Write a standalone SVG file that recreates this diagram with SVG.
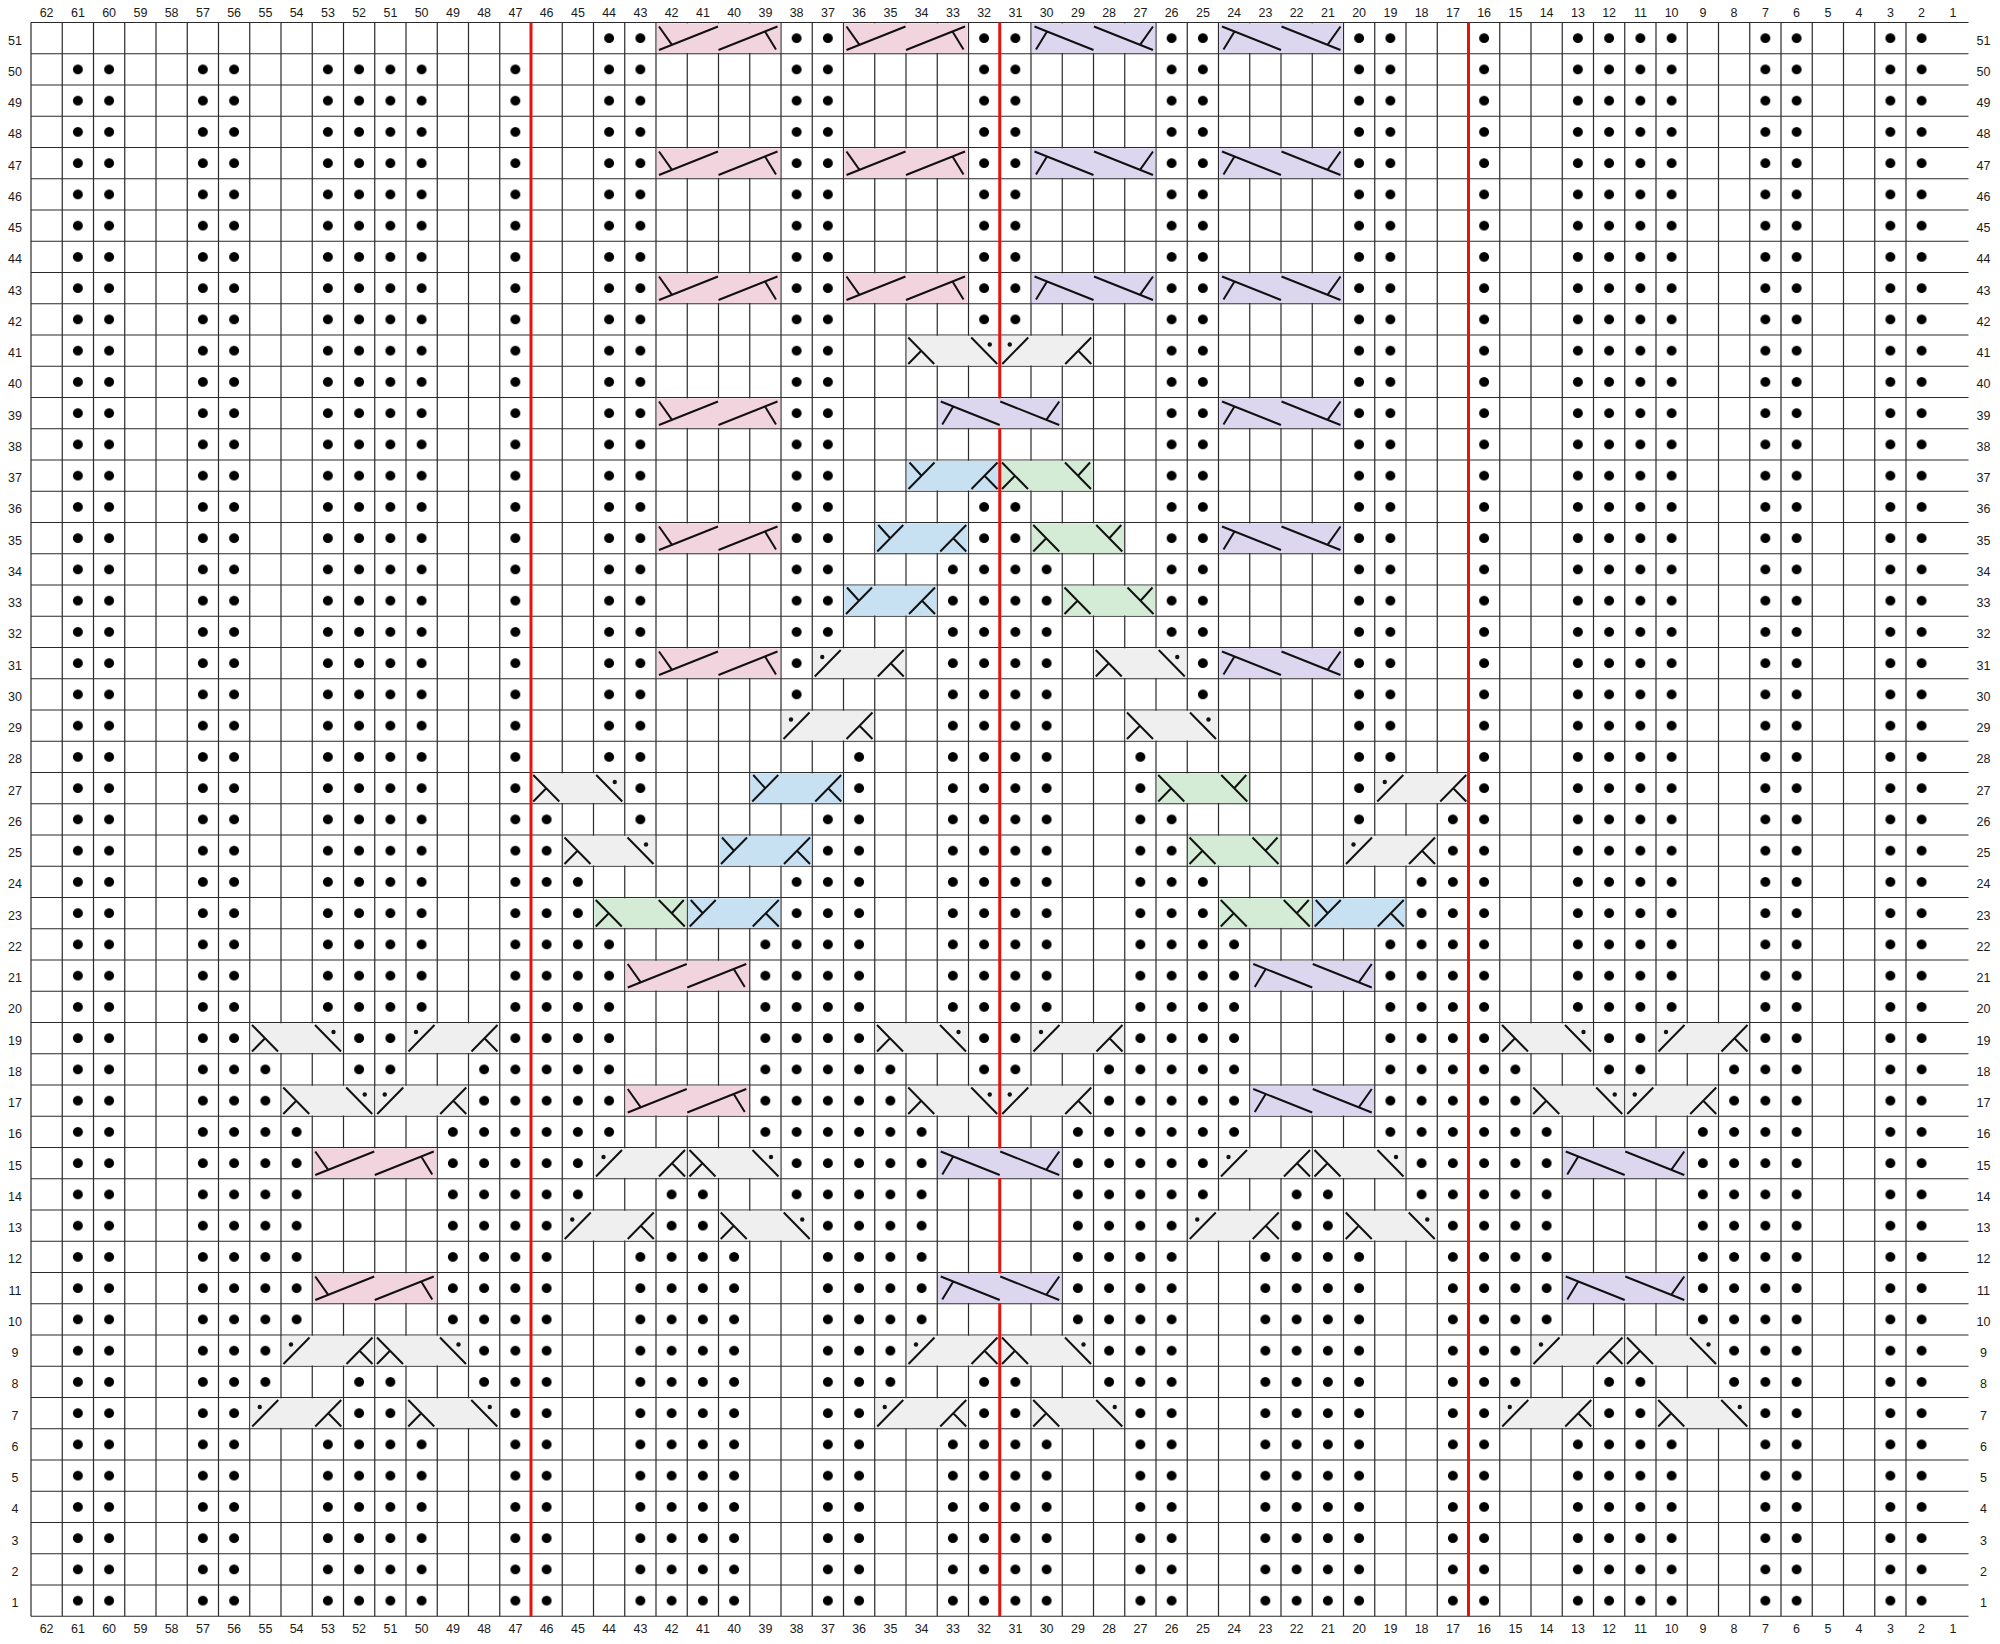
<svg xmlns="http://www.w3.org/2000/svg" width="2000" height="1644" viewBox="0 0 2000 1644">
<style>
.ln{fill:none;stroke:#111;stroke-width:2}
.gd{fill:none;stroke:#2a2a2a;stroke-width:1.2}
.rd{fill:none;stroke:#e3140e;stroke-width:3}
.d{fill:url(#dp)}
text{font-family:"Liberation Sans",Arial,sans-serif;font-size:12.5px;fill:#1a1a1a;text-anchor:middle}
</style>
<defs>
<pattern id="dp" patternUnits="userSpaceOnUse" x="31" y="22.5" width="31.25" height="31.25"><circle cx="15.625" cy="15.625" r="5" fill="#000"/></pattern>
<g id="pk"><rect x="0.8" y="0.8" width="123.4" height="29.65" fill="#f2d4df"/><path class="ln" d="M121.5 4L62.5 27.5M109 9L120 27M62 4L3 27.5M3 4L16 22.3"/></g>
<g id="pu"><rect x="0.8" y="0.8" width="123.4" height="29.65" fill="#dcd6ee"/><path class="ln" d="M3.5 4L62.5 27.5M16 9L5 27M63 4L122 27.5M122 4L109 22.3"/></g>
<g id="bl"><rect x="0.8" y="0.8" width="92.15" height="29.65" fill="#c8e1f2"/><path class="ln" d="M2.5 29L28.5 2.5M3.5 2.5L15.5 15.75M65.5 29L91.5 2.5M78.5 15.75L91.5 29"/></g>
<g id="gr"><rect x="0.8" y="0.8" width="92.15" height="29.65" fill="#d4ebd6"/><path class="ln" d="M91.25 29L65.25 2.5M90.25 2.5L78.25 15.75M28.25 29L2.25 2.5M15.25 15.75L2.25 29"/></g>
<g id="gb"><rect x="0.8" y="0.8" width="92.15" height="29.65" fill="#efefef"/><path class="ln" d="M2.5 29L28.5 2.5M65.5 29L91.5 2.5M78.5 15.75L91.5 29"/><circle cx="10" cy="9.5" r="2.2" fill="#111"/></g>
<g id="ga"><rect x="0.8" y="0.8" width="92.15" height="29.65" fill="#efefef"/><path class="ln" d="M91.25 29L65.25 2.5M28.25 29L2.25 2.5M15.25 15.75L2.25 29"/><circle cx="83.75" cy="9.5" r="2.2" fill="#111"/></g>
</defs>
<rect x="0" y="0" width="2000" height="1644" fill="#fff"/>
<g id="grid">
<path class="gd" d="M31 22.5v1593.75m31.25-1593.75v1593.75m31.25-1593.75v1593.75m31.25-1593.75v1593.75m31.25-1593.75v1593.75m31.25-1593.75v1593.75m31.25-1593.75v1593.75m31.25-1593.75v1593.75m31.25-1593.75v1593.75m31.25-1593.75v1593.75m31.25-1593.75v1593.75m31.25-1593.75v1593.75m31.25-1593.75v1593.75m31.25-1593.75v1593.75m31.25-1593.75v1593.75m31.25-1593.75v1593.75m31.25-1593.75v1593.75m31.25-1593.75v1593.75m31.25-1593.75v1593.75m31.25-1593.75v1593.75m31.25-1593.75v1593.75m31.25-1593.75v1593.75m31.25-1593.75v1593.75m31.25-1593.75v1593.75m31.25-1593.75v1593.75m31.25-1593.75v1593.75m31.25-1593.75v1593.75m31.25-1593.75v1593.75m31.25-1593.75v1593.75m31.25-1593.75v1593.75m31.25-1593.75v1593.75m31.25-1593.75v1593.75m31.25-1593.75v1593.75m31.25-1593.75v1593.75m31.25-1593.75v1593.75m31.25-1593.75v1593.75m31.25-1593.75v1593.75m31.25-1593.75v1593.75m31.25-1593.75v1593.75m31.25-1593.75v1593.75m31.25-1593.75v1593.75m31.25-1593.75v1593.75m31.25-1593.75v1593.75m31.25-1593.75v1593.75m31.25-1593.75v1593.75m31.25-1593.75v1593.75m31.25-1593.75v1593.75m31.25-1593.75v1593.75m31.25-1593.75v1593.75m31.25-1593.75v1593.75m31.25-1593.75v1593.75m31.25-1593.75v1593.75m31.25-1593.75v1593.75m31.25-1593.75v1593.75m31.25-1593.75v1593.75m31.25-1593.75v1593.75m31.25-1593.75v1593.75m31.25-1593.75v1593.75m31.25-1593.75v1593.75m31.25-1593.75v1593.75m31.25-1593.75v1593.75"/>
<path class="gd" d="M31 22.5h1937.5m-1937.5 31.25h1937.5m-1937.5 31.25h1937.5m-1937.5 31.25h1937.5m-1937.5 31.25h1937.5m-1937.5 31.25h1937.5m-1937.5 31.25h1937.5m-1937.5 31.25h1937.5m-1937.5 31.25h1937.5m-1937.5 31.25h1937.5m-1937.5 31.25h1937.5m-1937.5 31.25h1937.5m-1937.5 31.25h1937.5m-1937.5 31.25h1937.5m-1937.5 31.25h1937.5m-1937.5 31.25h1937.5m-1937.5 31.25h1937.5m-1937.5 31.25h1937.5m-1937.5 31.25h1937.5m-1937.5 31.25h1937.5m-1937.5 31.25h1937.5m-1937.5 31.25h1937.5m-1937.5 31.25h1937.5m-1937.5 31.25h1937.5m-1937.5 31.25h1937.5m-1937.5 31.25h1937.5m-1937.5 31.25h1937.5m-1937.5 31.25h1937.5m-1937.5 31.25h1937.5m-1937.5 31.25h1937.5m-1937.5 31.25h1937.5m-1937.5 31.25h1937.5m-1937.5 31.25h1937.5m-1937.5 31.25h1937.5m-1937.5 31.25h1937.5m-1937.5 31.25h1937.5m-1937.5 31.25h1937.5m-1937.5 31.25h1937.5m-1937.5 31.25h1937.5m-1937.5 31.25h1937.5m-1937.5 31.25h1937.5m-1937.5 31.25h1937.5m-1937.5 31.25h1937.5m-1937.5 31.25h1937.5m-1937.5 31.25h1937.5m-1937.5 31.25h1937.5m-1937.5 31.25h1937.5m-1937.5 31.25h1937.5m-1937.5 31.25h1937.5m-1937.5 31.25h1937.5m-1937.5 31.25h1937.5m-1937.5 31.25h1937.5"/>
</g>
<g id="cables">
<use href="#pk" x="656" y="22.5"/><use href="#pk" x="843.5" y="22.5"/><use href="#pu" x="1031" y="22.5"/><use href="#pu" x="1218.5" y="22.5"/>
<use href="#pk" x="656" y="147.5"/><use href="#pk" x="843.5" y="147.5"/><use href="#pu" x="1031" y="147.5"/><use href="#pu" x="1218.5" y="147.5"/>
<use href="#pk" x="656" y="272.5"/><use href="#pk" x="843.5" y="272.5"/><use href="#pu" x="1031" y="272.5"/><use href="#pu" x="1218.5" y="272.5"/>
<use href="#ga" x="906" y="335"/><use href="#gb" x="999.75" y="335"/>
<use href="#pk" x="656" y="397.5"/><use href="#pu" x="937.25" y="397.5"/><use href="#pu" x="1218.5" y="397.5"/>
<use href="#bl" x="906" y="460"/><use href="#gr" x="999.75" y="460"/>
<use href="#pk" x="656" y="522.5"/><use href="#bl" x="874.75" y="522.5"/><use href="#gr" x="1031" y="522.5"/><use href="#pu" x="1218.5" y="522.5"/>
<use href="#bl" x="843.5" y="585"/><use href="#gr" x="1062.25" y="585"/>
<use href="#pk" x="656" y="647.5"/><use href="#gb" x="812.25" y="647.5"/><use href="#ga" x="1093.5" y="647.5"/><use href="#pu" x="1218.5" y="647.5"/>
<use href="#gb" x="781" y="710"/><use href="#ga" x="1124.75" y="710"/>
<use href="#ga" x="531" y="772.5"/><use href="#bl" x="749.75" y="772.5"/><use href="#gr" x="1156" y="772.5"/><use href="#gb" x="1374.75" y="772.5"/>
<use href="#ga" x="562.25" y="835"/><use href="#bl" x="718.5" y="835"/><use href="#gr" x="1187.25" y="835"/><use href="#gb" x="1343.5" y="835"/>
<use href="#gr" x="593.5" y="897.5"/><use href="#bl" x="687.25" y="897.5"/><use href="#gr" x="1218.5" y="897.5"/><use href="#bl" x="1312.25" y="897.5"/>
<use href="#pk" x="624.75" y="960"/><use href="#pu" x="1249.75" y="960"/>
<use href="#ga" x="249.75" y="1022.5"/><use href="#gb" x="406" y="1022.5"/><use href="#ga" x="874.75" y="1022.5"/><use href="#gb" x="1031" y="1022.5"/><use href="#ga" x="1499.75" y="1022.5"/><use href="#gb" x="1656" y="1022.5"/>
<use href="#ga" x="281" y="1085"/><use href="#gb" x="374.75" y="1085"/><use href="#pk" x="624.75" y="1085"/><use href="#ga" x="906" y="1085"/><use href="#gb" x="999.75" y="1085"/><use href="#pu" x="1249.75" y="1085"/><use href="#ga" x="1531" y="1085"/><use href="#gb" x="1624.75" y="1085"/>
<use href="#pk" x="312.25" y="1147.5"/><use href="#gb" x="593.5" y="1147.5"/><use href="#ga" x="687.25" y="1147.5"/><use href="#pu" x="937.25" y="1147.5"/><use href="#gb" x="1218.5" y="1147.5"/><use href="#ga" x="1312.25" y="1147.5"/><use href="#pu" x="1562.25" y="1147.5"/>
<use href="#gb" x="562.25" y="1210"/><use href="#ga" x="718.5" y="1210"/><use href="#gb" x="1187.25" y="1210"/><use href="#ga" x="1343.5" y="1210"/>
<use href="#pk" x="312.25" y="1272.5"/><use href="#pu" x="937.25" y="1272.5"/><use href="#pu" x="1562.25" y="1272.5"/>
<use href="#gb" x="281" y="1335"/><use href="#ga" x="374.75" y="1335"/><use href="#gb" x="906" y="1335"/><use href="#ga" x="999.75" y="1335"/><use href="#gb" x="1531" y="1335"/><use href="#ga" x="1624.75" y="1335"/>
<use href="#gb" x="249.75" y="1397.5"/><use href="#ga" x="406" y="1397.5"/><use href="#gb" x="874.75" y="1397.5"/><use href="#ga" x="1031" y="1397.5"/><use href="#gb" x="1499.75" y="1397.5"/><use href="#ga" x="1656" y="1397.5"/>
</g>
<g id="purl-dots">
<rect class="d" x="62.25" y="53.75" width="62.5" height="1562.5"/>
<rect class="d" x="187.25" y="53.75" width="62.5" height="1562.5"/>
<rect class="d" x="249.75" y="1053.75" width="31.25" height="343.75"/>
<rect class="d" x="281" y="1116.25" width="31.25" height="218.75"/>
<rect class="d" x="312.25" y="53.75" width="31.25" height="968.75"/>
<rect class="d" x="312.25" y="1428.75" width="31.25" height="187.5"/>
<rect class="d" x="343.5" y="53.75" width="62.5" height="1031.25"/>
<rect class="d" x="343.5" y="1366.25" width="62.5" height="250"/>
<rect class="d" x="406" y="53.75" width="31.25" height="968.75"/>
<rect class="d" x="406" y="1428.75" width="31.25" height="187.5"/>
<rect class="d" x="437.25" y="1116.25" width="31.25" height="218.75"/>
<rect class="d" x="468.5" y="1053.75" width="31.25" height="343.75"/>
<rect class="d" x="499.75" y="53.75" width="31.25" height="1562.5"/>
<rect class="d" x="531" y="803.75" width="31.25" height="812.5"/>
<rect class="d" x="562.25" y="866.25" width="31.25" height="343.75"/>
<rect class="d" x="593.5" y="22.5" width="31.25" height="750"/>
<rect class="d" x="593.5" y="928.75" width="31.25" height="218.75"/>
<rect class="d" x="624.75" y="22.5" width="31.25" height="812.5"/>
<rect class="d" x="624.75" y="1241.25" width="31.25" height="375"/>
<rect class="d" x="656" y="1178.75" width="62.5" height="437.5"/>
<rect class="d" x="718.5" y="1241.25" width="31.25" height="375"/>
<rect class="d" x="749.75" y="928.75" width="31.25" height="218.75"/>
<rect class="d" x="781" y="22.5" width="31.25" height="687.5"/>
<rect class="d" x="781" y="866.25" width="31.25" height="343.75"/>
<rect class="d" x="812.25" y="22.5" width="31.25" height="625"/>
<rect class="d" x="812.25" y="803.75" width="31.25" height="812.5"/>
<rect class="d" x="843.5" y="741.25" width="31.25" height="875"/>
<rect class="d" x="874.75" y="1053.75" width="31.25" height="343.75"/>
<rect class="d" x="906" y="1116.25" width="31.25" height="218.75"/>
<rect class="d" x="937.25" y="553.75" width="31.25" height="468.75"/>
<rect class="d" x="937.25" y="1428.75" width="31.25" height="187.5"/>
<rect class="d" x="968.5" y="22.5" width="62.5" height="312.5"/>
<rect class="d" x="968.5" y="491.25" width="62.5" height="593.75"/>
<rect class="d" x="968.5" y="1366.25" width="62.5" height="250"/>
<rect class="d" x="1031" y="553.75" width="31.25" height="468.75"/>
<rect class="d" x="1031" y="1428.75" width="31.25" height="187.5"/>
<rect class="d" x="1062.25" y="1116.25" width="31.25" height="218.75"/>
<rect class="d" x="1093.5" y="1053.75" width="31.25" height="343.75"/>
<rect class="d" x="1124.75" y="741.25" width="31.25" height="875"/>
<rect class="d" x="1156" y="22.5" width="31.25" height="625"/>
<rect class="d" x="1156" y="803.75" width="31.25" height="812.5"/>
<rect class="d" x="1187.25" y="22.5" width="31.25" height="687.5"/>
<rect class="d" x="1187.25" y="866.25" width="31.25" height="343.75"/>
<rect class="d" x="1218.5" y="928.75" width="31.25" height="218.75"/>
<rect class="d" x="1249.75" y="1241.25" width="31.25" height="375"/>
<rect class="d" x="1281" y="1178.75" width="62.5" height="437.5"/>
<rect class="d" x="1343.5" y="22.5" width="31.25" height="812.5"/>
<rect class="d" x="1343.5" y="1241.25" width="31.25" height="375"/>
<rect class="d" x="1374.75" y="22.5" width="31.25" height="750"/>
<rect class="d" x="1374.75" y="928.75" width="31.25" height="218.75"/>
<rect class="d" x="1406" y="866.25" width="31.25" height="343.75"/>
<rect class="d" x="1437.25" y="803.75" width="31.25" height="812.5"/>
<rect class="d" x="1468.5" y="22.5" width="31.25" height="1593.75"/>
<rect class="d" x="1499.75" y="1053.75" width="31.25" height="343.75"/>
<rect class="d" x="1531" y="1116.25" width="31.25" height="218.75"/>
<rect class="d" x="1562.25" y="22.5" width="31.25" height="1000"/>
<rect class="d" x="1562.25" y="1428.75" width="31.25" height="187.5"/>
<rect class="d" x="1593.5" y="22.5" width="62.5" height="1062.5"/>
<rect class="d" x="1593.5" y="1366.25" width="62.5" height="250"/>
<rect class="d" x="1656" y="22.5" width="31.25" height="1000"/>
<rect class="d" x="1656" y="1428.75" width="31.25" height="187.5"/>
<rect class="d" x="1687.25" y="1116.25" width="31.25" height="218.75"/>
<rect class="d" x="1718.5" y="1053.75" width="31.25" height="343.75"/>
<rect class="d" x="1749.75" y="22.5" width="62.5" height="1593.75"/>
<rect class="d" x="1874.75" y="22.5" width="62.5" height="1593.75"/>
</g>
<g id="repeat-lines">
<path class="rd" d="M531 22.5V1616.25M1468.5 22.5V1616.25M999.75 22.5V398.3M999.75 427.95V1148.3M999.75 1177.95V1273.3M999.75 1302.95V1616.25"/>
</g>
<g id="col-labels-top">
<text x="46.6" y="16.7">62</text><text x="77.9" y="16.7">61</text><text x="109.1" y="16.7">60</text><text x="140.4" y="16.7">59</text><text x="171.6" y="16.7">58</text><text x="202.9" y="16.7">57</text><text x="234.1" y="16.7">56</text><text x="265.4" y="16.7">55</text><text x="296.6" y="16.7">54</text><text x="327.9" y="16.7">53</text><text x="359.1" y="16.7">52</text><text x="390.4" y="16.7">51</text><text x="421.6" y="16.7">50</text><text x="452.9" y="16.7">49</text><text x="484.1" y="16.7">48</text><text x="515.4" y="16.7">47</text><text x="546.6" y="16.7">46</text><text x="577.9" y="16.7">45</text><text x="609.1" y="16.7">44</text><text x="640.4" y="16.7">43</text><text x="671.6" y="16.7">42</text><text x="702.9" y="16.7">41</text><text x="734.1" y="16.7">40</text><text x="765.4" y="16.7">39</text><text x="796.6" y="16.7">38</text><text x="827.9" y="16.7">37</text><text x="859.1" y="16.7">36</text><text x="890.4" y="16.7">35</text><text x="921.6" y="16.7">34</text><text x="952.9" y="16.7">33</text><text x="984.1" y="16.7">32</text><text x="1015.4" y="16.7">31</text><text x="1046.6" y="16.7">30</text><text x="1077.9" y="16.7">29</text><text x="1109.1" y="16.7">28</text><text x="1140.4" y="16.7">27</text><text x="1171.6" y="16.7">26</text><text x="1202.9" y="16.7">25</text><text x="1234.1" y="16.7">24</text><text x="1265.4" y="16.7">23</text><text x="1296.6" y="16.7">22</text><text x="1327.9" y="16.7">21</text><text x="1359.1" y="16.7">20</text><text x="1390.4" y="16.7">19</text><text x="1421.6" y="16.7">18</text><text x="1452.9" y="16.7">17</text><text x="1484.1" y="16.7">16</text><text x="1515.4" y="16.7">15</text><text x="1546.6" y="16.7">14</text><text x="1577.9" y="16.7">13</text><text x="1609.1" y="16.7">12</text><text x="1640.4" y="16.7">11</text><text x="1671.6" y="16.7">10</text><text x="1702.9" y="16.7">9</text><text x="1734.1" y="16.7">8</text><text x="1765.4" y="16.7">7</text><text x="1796.6" y="16.7">6</text><text x="1827.9" y="16.7">5</text><text x="1859.1" y="16.7">4</text><text x="1890.4" y="16.7">3</text><text x="1921.6" y="16.7">2</text><text x="1952.9" y="16.7">1</text>
</g>
<g id="col-labels-bottom">
<text x="46.6" y="1633">62</text><text x="77.9" y="1633">61</text><text x="109.1" y="1633">60</text><text x="140.4" y="1633">59</text><text x="171.6" y="1633">58</text><text x="202.9" y="1633">57</text><text x="234.1" y="1633">56</text><text x="265.4" y="1633">55</text><text x="296.6" y="1633">54</text><text x="327.9" y="1633">53</text><text x="359.1" y="1633">52</text><text x="390.4" y="1633">51</text><text x="421.6" y="1633">50</text><text x="452.9" y="1633">49</text><text x="484.1" y="1633">48</text><text x="515.4" y="1633">47</text><text x="546.6" y="1633">46</text><text x="577.9" y="1633">45</text><text x="609.1" y="1633">44</text><text x="640.4" y="1633">43</text><text x="671.6" y="1633">42</text><text x="702.9" y="1633">41</text><text x="734.1" y="1633">40</text><text x="765.4" y="1633">39</text><text x="796.6" y="1633">38</text><text x="827.9" y="1633">37</text><text x="859.1" y="1633">36</text><text x="890.4" y="1633">35</text><text x="921.6" y="1633">34</text><text x="952.9" y="1633">33</text><text x="984.1" y="1633">32</text><text x="1015.4" y="1633">31</text><text x="1046.6" y="1633">30</text><text x="1077.9" y="1633">29</text><text x="1109.1" y="1633">28</text><text x="1140.4" y="1633">27</text><text x="1171.6" y="1633">26</text><text x="1202.9" y="1633">25</text><text x="1234.1" y="1633">24</text><text x="1265.4" y="1633">23</text><text x="1296.6" y="1633">22</text><text x="1327.9" y="1633">21</text><text x="1359.1" y="1633">20</text><text x="1390.4" y="1633">19</text><text x="1421.6" y="1633">18</text><text x="1452.9" y="1633">17</text><text x="1484.1" y="1633">16</text><text x="1515.4" y="1633">15</text><text x="1546.6" y="1633">14</text><text x="1577.9" y="1633">13</text><text x="1609.1" y="1633">12</text><text x="1640.4" y="1633">11</text><text x="1671.6" y="1633">10</text><text x="1702.9" y="1633">9</text><text x="1734.1" y="1633">8</text><text x="1765.4" y="1633">7</text><text x="1796.6" y="1633">6</text><text x="1827.9" y="1633">5</text><text x="1859.1" y="1633">4</text><text x="1890.4" y="1633">3</text><text x="1921.6" y="1633">2</text><text x="1952.9" y="1633">1</text>
</g>
<g id="row-labels-left">
<text x="15" y="44.6">51</text><text x="15" y="75.9">50</text><text x="15" y="107.1">49</text><text x="15" y="138.4">48</text><text x="15" y="169.6">47</text><text x="15" y="200.9">46</text><text x="15" y="232.1">45</text><text x="15" y="263.4">44</text><text x="15" y="294.6">43</text><text x="15" y="325.9">42</text><text x="15" y="357.1">41</text><text x="15" y="388.4">40</text><text x="15" y="419.6">39</text><text x="15" y="450.9">38</text><text x="15" y="482.1">37</text><text x="15" y="513.4">36</text><text x="15" y="544.6">35</text><text x="15" y="575.9">34</text><text x="15" y="607.1">33</text><text x="15" y="638.4">32</text><text x="15" y="669.6">31</text><text x="15" y="700.9">30</text><text x="15" y="732.1">29</text><text x="15" y="763.4">28</text><text x="15" y="794.6">27</text><text x="15" y="825.9">26</text><text x="15" y="857.1">25</text><text x="15" y="888.4">24</text><text x="15" y="919.6">23</text><text x="15" y="950.9">22</text><text x="15" y="982.1">21</text><text x="15" y="1013.4">20</text><text x="15" y="1044.6">19</text><text x="15" y="1075.9">18</text><text x="15" y="1107.1">17</text><text x="15" y="1138.4">16</text><text x="15" y="1169.6">15</text><text x="15" y="1200.9">14</text><text x="15" y="1232.1">13</text><text x="15" y="1263.4">12</text><text x="15" y="1294.6">11</text><text x="15" y="1325.9">10</text><text x="15" y="1357.1">9</text><text x="15" y="1388.4">8</text><text x="15" y="1419.6">7</text><text x="15" y="1450.9">6</text><text x="15" y="1482.1">5</text><text x="15" y="1513.4">4</text><text x="15" y="1544.6">3</text><text x="15" y="1575.9">2</text><text x="15" y="1607.1">1</text>
</g>
<g id="row-labels-right">
<text x="1983.5" y="44.6">51</text><text x="1983.5" y="75.9">50</text><text x="1983.5" y="107.1">49</text><text x="1983.5" y="138.4">48</text><text x="1983.5" y="169.6">47</text><text x="1983.5" y="200.9">46</text><text x="1983.5" y="232.1">45</text><text x="1983.5" y="263.4">44</text><text x="1983.5" y="294.6">43</text><text x="1983.5" y="325.9">42</text><text x="1983.5" y="357.1">41</text><text x="1983.5" y="388.4">40</text><text x="1983.5" y="419.6">39</text><text x="1983.5" y="450.9">38</text><text x="1983.5" y="482.1">37</text><text x="1983.5" y="513.4">36</text><text x="1983.5" y="544.6">35</text><text x="1983.5" y="575.9">34</text><text x="1983.5" y="607.1">33</text><text x="1983.5" y="638.4">32</text><text x="1983.5" y="669.6">31</text><text x="1983.5" y="700.9">30</text><text x="1983.5" y="732.1">29</text><text x="1983.5" y="763.4">28</text><text x="1983.5" y="794.6">27</text><text x="1983.5" y="825.9">26</text><text x="1983.5" y="857.1">25</text><text x="1983.5" y="888.4">24</text><text x="1983.5" y="919.6">23</text><text x="1983.5" y="950.9">22</text><text x="1983.5" y="982.1">21</text><text x="1983.5" y="1013.4">20</text><text x="1983.5" y="1044.6">19</text><text x="1983.5" y="1075.9">18</text><text x="1983.5" y="1107.1">17</text><text x="1983.5" y="1138.4">16</text><text x="1983.5" y="1169.6">15</text><text x="1983.5" y="1200.9">14</text><text x="1983.5" y="1232.1">13</text><text x="1983.5" y="1263.4">12</text><text x="1983.5" y="1294.6">11</text><text x="1983.5" y="1325.9">10</text><text x="1983.5" y="1357.1">9</text><text x="1983.5" y="1388.4">8</text><text x="1983.5" y="1419.6">7</text><text x="1983.5" y="1450.9">6</text><text x="1983.5" y="1482.1">5</text><text x="1983.5" y="1513.4">4</text><text x="1983.5" y="1544.6">3</text><text x="1983.5" y="1575.9">2</text><text x="1983.5" y="1607.1">1</text>
</g>
</svg>
